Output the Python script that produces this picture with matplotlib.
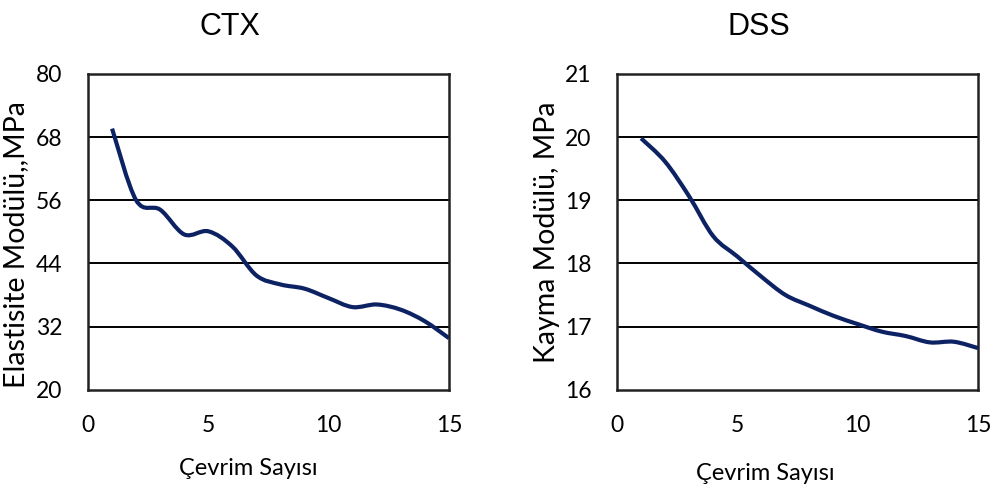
import numpy as np
import matplotlib
matplotlib.use("Agg")
import matplotlib.pyplot as plt
from matplotlib.path import Path
from matplotlib.patches import PathPatch

cycles = [1, 2, 3, 4, 5, 6, 7, 8, 9, 10, 11, 12, 13, 14, 15]
ctx_modulus = [69.6, 56.0, 54.2, 49.5, 50.1, 47.2, 41.7, 40.0, 39.2, 37.4, 35.7, 36.2, 35.2, 33.0, 29.8]
dss_modulus = [19.98, 19.61, 19.06, 18.43, 18.11, 17.79, 17.50, 17.33, 17.17, 17.04, 16.92, 16.85, 16.75, 16.76, 16.66]

titles = ["CTX", "DSS"]
ylabels = ["Elastisite Modülü,,MPa", "Kayma Modülü, MPa"]
xlabel = "Çevrim Sayısı"
ctx_yticks = [20, 32, 44, 56, 68, 80]
dss_yticks = [16, 17, 18, 19, 20, 21]
xticks = [0, 5, 10, 15]

LINE = "#0d2263"
TICKFONT = ["Lato", "DejaVu Sans"]


def smooth_path(x, y, t=1/6):
    x = np.asarray(x, float)
    y = np.asarray(y, float)
    n = len(x)
    verts = [(x[0], y[0])]
    codes = [Path.MOVETO]
    for i in range(n - 1):
        p0 = (x[i - 1], y[i - 1]) if i > 0 else (x[i], y[i])
        p1 = (x[i], y[i])
        p2 = (x[i + 1], y[i + 1])
        p3 = (x[i + 2], y[i + 2]) if i + 2 < n else (x[i + 1], y[i + 1])
        c1 = (p1[0] + (p2[0] - p0[0]) * t, p1[1] + (p2[1] - p0[1]) * t)
        c2 = (p2[0] - (p3[0] - p1[0]) * t, p2[1] - (p3[1] - p1[1]) * t)
        verts += [c1, c2, p2]
        codes += [Path.CURVE4] * 3
    return Path(verts, codes)


fig = plt.figure(figsize=(10, 4.86), dpi=100)
ax1 = fig.add_axes([0.088, 0.198, 0.361, 0.650])
ax2 = fig.add_axes([0.617, 0.198, 0.361, 0.650])

for ax, data, yt, title, yl, ylx, yly, xlx, xly in [
    (ax1, ctx_modulus, ctx_yticks, titles[0], ylabels[0], -0.163, 0.46, 0.445, -0.215),
    (ax2, dss_modulus, dss_yticks, titles[1], ylabels[1], -0.158, 0.50, 0.411, -0.231),
]:
    ax.set_xlim(xticks[0], xticks[-1])
    ax.set_ylim(yt[0], yt[-1])
    ax.set_xticks(xticks)
    ax.set_yticks(yt)
    for v in yt[1:-1]:
        ax.axhline(v, color="black", lw=1.4, zorder=1)
    patch = PathPatch(smooth_path(cycles, data), facecolor="none", edgecolor=LINE,
                      lw=3, capstyle="butt", zorder=3)
    ax.add_patch(patch)
    for s in ax.spines.values():
        s.set_color("#222222")
        s.set_linewidth(1.8)
    ax.tick_params(axis="y", length=0, pad=18.5, labelsize=16.5)
    ax.tick_params(axis="x", length=0, pad=18, labelsize=16.5)
    for lab in ax.get_xticklabels() + ax.get_yticklabels():
        lab.set_family(TICKFONT)
    ax.set_title(title, fontsize=22, family=["Liberation Sans", "DejaVu Sans"],
                 x=0.392, pad=28)
    ax.set_xlabel(xlabel, fontsize=17, family=TICKFONT)
    ax.xaxis.set_label_coords(xlx, xly)
    ax.set_ylabel(yl, fontsize=20.5, family=TICKFONT)
    ax.yaxis.set_label_coords(ylx, yly)

fig.savefig("out.png", dpi=100, facecolor="white")
